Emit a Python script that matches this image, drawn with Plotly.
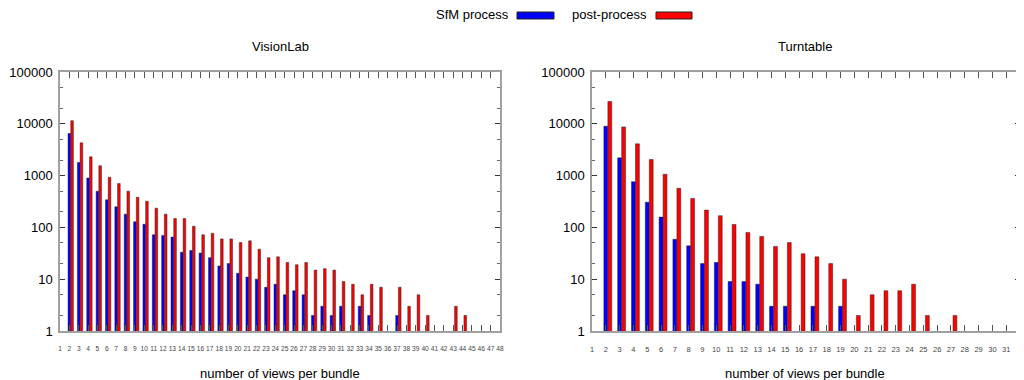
import plotly.graph_objects as go

# ---------------- data ----------------
vl_views = list(range(1, 49))
vl_sfm = [None, 6500, 1800, 900, 500, 340, 250, 180, 128, 115,
          72, 70, 65, 33, 36, 32, 26, 18, 20, 13,
          11, 10, 7, 8, 5, 6, 5, 2, 3, 2,
          3, None, 3, 2, None, None, 2, None, None, None,
          None, None, None, None, None, None, None, None]
vl_post = [None, 11500, 4300, 2300, 1550, 930, 700, 500, 380, 320,
           235, 180, 148, 148, 105, 72, 77, 60, 60, 51,
           55, 38, 26, 27, 21, 19, 21, 15, 16, 15,
           9, 8, 5, 8, 7, None, 7, 3, 5, 2,
           None, None, 3, 2, None, None, None, None]

tt_views = list(range(1, 32))
tt_sfm = [None, 9000, 2200, 760, 305, 158, 59, 44, 20, 21,
          9, 9, 8, 3, 3, None, 3, None, 3, None,
          None, None, None, None, None, None, None, None, None, None, None]
tt_post = [None, 27000, 8700, 4100, 2040, 1060, 570, 363, 216, 168,
           114, 80, 67, 43, 51, 31, 27, 20, 10, 2,
           5, 6, 6, 8, 2, None, 2, None, None, None, None]

y_major = [1, 10, 100, 1000, 10000, 100000]
y_minor = [2, 5, 20, 50, 200, 500, 2000, 5000, 20000, 50000]

BLUE = "#0000ff"
RED = "#ff0000"
W = 1024
H = 380
OX = 8   # page body offset
OY = 8
FONT = "Liberation Sans, Arial, sans-serif"

fig = go.Figure()

def add_pair(x, sfm, post, xa, ya):
    fig.add_trace(go.Bar(x=x, y=sfm, name="SfM process", xaxis=xa, yaxis=ya,
                         marker=dict(color=BLUE, line=dict(color="#222", width=0.5)),
                         width=0.28, offset=-0.14, showlegend=False))
    fig.add_trace(go.Bar(x=x, y=post, name="post-process", xaxis=xa, yaxis=ya,
                         marker=dict(color=RED, line=dict(color="#222", width=0.5)),
                         width=0.28, offset=0.15, showlegend=False))

add_pair(vl_views, vl_sfm, vl_post, "x", "y")
add_pair(tt_views, tt_sfm, tt_post, "x2", "y2")

def px_x(p):
    return (p - OX) / W

def px_y(p):
    return (H - (p - OY)) / H

ydom = [px_y(331), px_y(72)]

def xaxis_cfg(dom, rng, vals, fs, anchor):
    return dict(domain=dom, range=rng, tickvals=vals, ticktext=[str(v) for v in vals],
                showline=True, linecolor="#a0a0a0", linewidth=1.5, mirror="ticks",
                ticks="inside", ticklen=6, tickcolor="#555", tickwidth=1,
                tickfont=dict(size=fs, color="#444", family=FONT),
                tickangle=0, ticklabelstandoff=10,
                showgrid=False, zeroline=False, automargin=False, anchor=anchor)

def yaxis_cfg(anchor):
    return dict(domain=ydom, type="log", range=[0, 5], tickvals=y_major,
                ticktext=[str(v) for v in y_major],
                showline=True, linecolor="#a0a0a0", linewidth=1.5, mirror="allticks",
                ticks="inside", ticklen=5, tickcolor="#333", tickwidth=1,
                minor=dict(tickvals=y_minor, ticks="inside", ticklen=3, tickcolor="#666"),
                tickfont=dict(size=13, color="#000", family=FONT),
                ticklabelstandoff=3,
                showgrid=False, zeroline=False, automargin=False, anchor=anchor)

xa1 = xaxis_cfg([px_x(60), px_x(500)], [1, 48], vl_views, 6.6, "y")
xa2 = xaxis_cfg([px_x(592), px_x(1020)], [1, 32], tt_views, 7.5, "y2")

def ann(text, x, y, xanchor="center"):
    return dict(text=text, x=px_x(x), y=px_y(y), xref="paper", yref="paper",
                xanchor=xanchor, yanchor="middle", showarrow=False,
                font=dict(size=13, color="#000", family=FONT))

annotations = [
    ann("VisionLab", 280, 47),
    ann("Turntable", 805, 47),
    ann("number of views per bundle", 280, 373),
    ann("number of views per bundle", 805, 373),
    ann("SfM process", 511, 15, "right"),
    ann("post-process", 649, 15, "right"),
]

shapes = [
    dict(type="rect", xref="paper", yref="paper", x0=px_x(517), x1=px_x(554),
         y0=px_y(19), y1=px_y(12), fillcolor=BLUE, line=dict(color="#222", width=1)),
    dict(type="rect", xref="paper", yref="paper", x0=px_x(656), x1=px_x(692),
         y0=px_y(19), y1=px_y(12), fillcolor=RED, line=dict(color="#222", width=1)),
]

fig.update_layout(
    width=W, height=H,
    margin=dict(l=0, r=0, t=0, b=0, pad=0),
    paper_bgcolor="white", plot_bgcolor="white",
    barmode="overlay",
    showlegend=False,
    xaxis=xa1, xaxis2=xa2,
    yaxis=yaxis_cfg("x"), yaxis2=yaxis_cfg("x2"),
    annotations=annotations, shapes=shapes,
    font=dict(family=FONT),
)

fig.write_html("out.html")
